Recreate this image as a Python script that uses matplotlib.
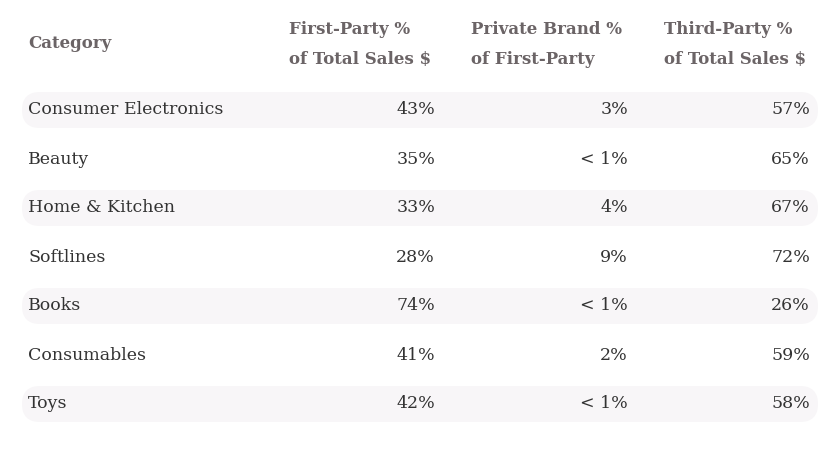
import matplotlib.pyplot as plt
from matplotlib.patches import FancyBboxPatch

categories = ["Consumer Electronics", "Beauty", "Home & Kitchen", "Softlines",
              "Books", "Consumables", "Toys"]
first_party = ["43%", "35%", "33%", "28%", "74%", "41%", "42%"]
private_brand = ["3%", "< 1%", "4%", "9%", "< 1%", "2%", "< 1%"]
third_party = ["57%", "65%", "67%", "72%", "26%", "59%", "58%"]
headers = ["Category", "First-Party %\nof Total Sales $",
           "Private Brand %\nof First-Party", "Third-Party %\nof Total Sales $"]

W, H = 840, 457
fig = plt.figure(figsize=(W / 100, H / 100), dpi=100)
ax = fig.add_axes([0, 0, 1, 1])
ax.set_xlim(0, W)
ax.set_ylim(H, 0)
ax.axis("off")

font = "DejaVu Serif"
hdr_color = "#6b6466"
txt_color = "#333333"

# header
head_x = [28, 289, 471, 664]
for x, h in zip(head_x, headers):
    ax.text(x, 44, h.replace("$", r"\$"), ha="left", va="center", fontsize=12,
            fontweight="bold", color=hdr_color, family=font, linespacing=2.0)

row_y0, row_h = 110, 49
val_x = [435, 628, 810]
for i, cat in enumerate(categories):
    y = row_y0 + i * row_h
    if i % 2 == 0:
        ax.add_patch(FancyBboxPatch((22, y - 18), 796, 36,
                                    boxstyle="round,pad=0,rounding_size=18",
                                    facecolor="#f8f6f8", edgecolor="none", zorder=0))
    ax.text(28, y, cat, ha="left", va="center", fontsize=12.5,
            color=txt_color, family=font)
    for x, v in zip(val_x, (first_party[i], private_brand[i], third_party[i])):
        ax.text(x, y, v, ha="right", va="center", fontsize=12.5,
                color=txt_color, family=font)

fig.savefig("out.png", dpi=100, facecolor="white")
